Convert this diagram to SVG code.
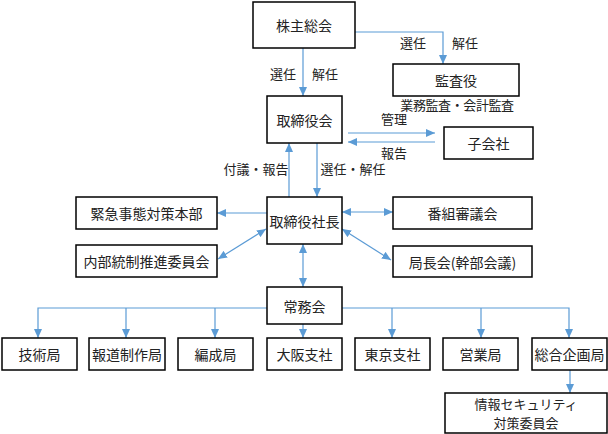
<svg xmlns="http://www.w3.org/2000/svg" width="608" height="434" viewBox="0 0 608 434">
<style>
.box{fill:#fff;stroke:#000;stroke-width:1.5}
.t{font-family:"Noto Sans CJK JP","Noto Sans",sans-serif;font-size:14px;fill:#222;text-anchor:middle;dominant-baseline:central}
.s{font-size:13px}
.l{font-family:"Noto Sans CJK JP","Noto Sans",sans-serif;font-size:13px;fill:#222;text-anchor:middle;dominant-baseline:central}
.c{fill:none;stroke:#5B9BD5;stroke-width:1.2}
</style>
<defs>
<marker id="ah" markerUnits="userSpaceOnUse" markerWidth="9" markerHeight="8" refX="9" refY="4" orient="auto-start-reverse">
<path d="M0,0 L9,4 L0,8 Z" fill="#5B9BD5"/>
</marker>
</defs>
<rect width="608" height="434" fill="#fff"/>
<g id="connectors">
<path class="c" d="M303,48 V96" marker-end="url(#ah)"/>
<path class="c" d="M355,32 H443 V64" marker-end="url(#ah)"/>
<path class="c" d="M348,133 H435" marker-end="url(#ah)"/>
<path class="c" d="M435,142 H348" marker-end="url(#ah)"/>
<path class="c" d="M289,197 V143" marker-end="url(#ah)"/>
<path class="c" d="M317,143 V197" marker-end="url(#ah)"/>
<path class="c" d="M267,213 H217" marker-end="url(#ah)"/>
<path class="c" d="M218,259 L266,229" marker-start="url(#ah)" marker-end="url(#ah)"/>
<path class="c" d="M342,212 H393" marker-start="url(#ah)" marker-end="url(#ah)"/>
<path class="c" d="M342,229 L391,260" marker-start="url(#ah)" marker-end="url(#ah)"/>
<path class="c" d="M303,244 V287" marker-start="url(#ah)" marker-end="url(#ah)"/>
<path class="c" d="M267,308 H38 V338" marker-end="url(#ah)"/>
<path class="c" d="M126,308 V338" marker-end="url(#ah)"/>
<path class="c" d="M215,308 V338" marker-end="url(#ah)"/>
<path class="c" d="M303,324 V338" marker-end="url(#ah)"/>
<path class="c" d="M342,308 H569 V338" marker-end="url(#ah)"/>
<path class="c" d="M392,308 V338" marker-end="url(#ah)"/>
<path class="c" d="M481,308 V338" marker-end="url(#ah)"/>
<path class="c" d="M570,370 V393" marker-end="url(#ah)"/>
<text class="l" x="413" y="42">選任</text>
<text class="l" x="465" y="42">解任</text>
<text class="l" x="283" y="73">選任</text>
<text class="l" x="325" y="73">解任</text>
<text class="l" x="457" y="104" letter-spacing="-0.4">業務監査・会計監査</text>
<text class="l" x="394" y="118">管理</text>
<text class="l" x="394" y="152">報告</text>
<text class="l" x="256" y="168">付議・報告</text>
<text class="l" x="353" y="168">選任・解任</text>
</g>
<g id="kabunushi"><rect class="box" x="253" y="2" width="102" height="46"/><text class="t" x="304" y="25">株主総会</text></g>
<g id="kansayaku"><rect class="box" x="393" y="64" width="126" height="32"/><text class="t" x="456" y="80">監査役</text></g>
<g id="torishimariyakukai"><rect class="box" x="267" y="96" width="75" height="47"/><text class="t" x="304.5" y="120">取締役会</text></g>
<g id="kogaisha"><rect class="box" x="444" y="127" width="89" height="32"/><text class="t" x="488.5" y="143">子会社</text></g>
<g id="shacho"><rect class="box" x="267" y="197" width="75" height="47"/><text class="t" x="304.5" y="221">取締役社長</text></g>
<g id="kinkyu"><rect class="box" x="76" y="197" width="141" height="32"/><text class="t" x="146.5" y="213">緊急事態対策本部</text></g>
<g id="naibutosei"><rect class="box" x="76" y="245" width="141" height="32"/><text class="t" x="146.5" y="261">内部統制推進委員会</text></g>
<g id="bangumi"><rect class="box" x="393" y="197" width="139" height="32"/><text class="t" x="462.5" y="213">番組審議会</text></g>
<g id="kyokuchokai"><rect class="box" x="393" y="246" width="139" height="31"/><text class="t" x="462.5" y="261.5">局長会(幹部会議)</text></g>
<g id="jomukai"><rect class="box" x="267" y="287" width="75" height="37"/><text class="t" x="304.5" y="305.5">常務会</text></g>
<g id="gijutsu"><rect class="box" x="2" y="338" width="75" height="32"/><text class="t" x="39.5" y="354">技術局</text></g>
<g id="hodo"><rect class="box" x="89" y="338" width="76" height="32"/><text class="t" x="127" y="354">報道制作局</text></g>
<g id="hensei"><rect class="box" x="178" y="338" width="75" height="32"/><text class="t" x="215.5" y="354">編成局</text></g>
<g id="osaka"><rect class="box" x="267" y="338" width="75" height="32"/><text class="t" x="304.5" y="354">大阪支社</text></g>
<g id="tokyo"><rect class="box" x="355" y="338" width="75" height="32"/><text class="t" x="392.5" y="354">東京支社</text></g>
<g id="eigyo"><rect class="box" x="443" y="338" width="75" height="32"/><text class="t" x="480.5" y="354">営業局</text></g>
<g id="sogokikaku"><rect class="box" x="532" y="338" width="75" height="32"/><text class="t" x="569.5" y="354">総合企画局</text></g>
<g id="security"><rect class="box" x="445" y="393" width="162" height="40"/><text class="t s" x="526" y="403">情報セキュリティ</text><text class="t s" x="526" y="422">対策委員会</text></g>
</svg>
